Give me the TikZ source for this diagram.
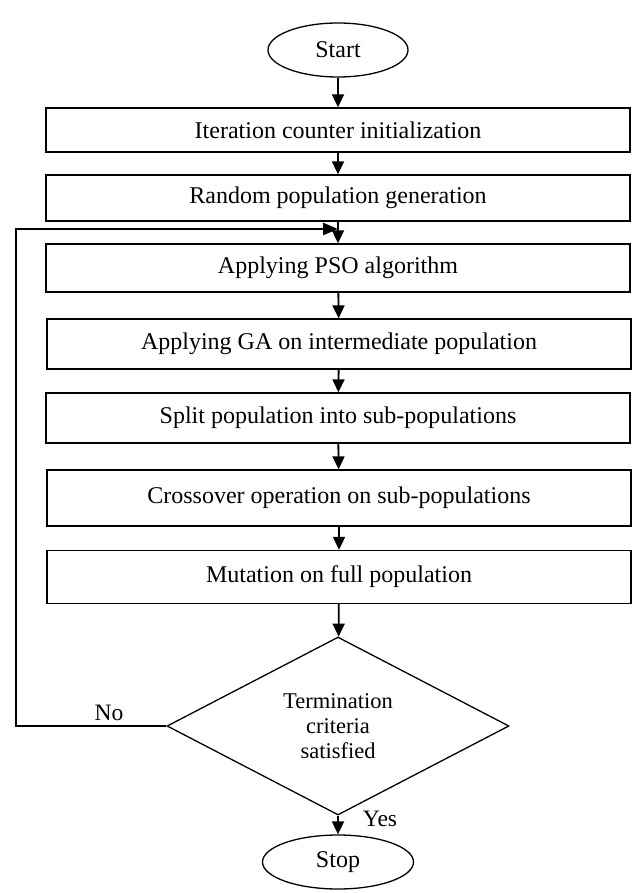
\documentclass[tikz,border=0pt]{standalone}
\usepackage{fontspec}
\setmainfont{Liberation Serif}
\usetikzlibrary{shapes.geometric,arrows.meta}
\begin{document}
\begin{tikzpicture}[x=1pt,y=-1pt,
  box/.style={draw,line width=1.3pt,minimum width=584pt,inner sep=0pt,font=\fontsize{24}{26}\selectfont},
  term/.style={ellipse,draw,line width=1.3pt,inner sep=0pt,minimum height=54pt,font=\fontsize{24}{26}\selectfont},
  decision/.style={diamond,draw,line width=1.3pt,inner sep=0pt,aspect=1.92,minimum width=342pt,minimum height=178pt,align=center,font=\fontsize{22.5}{25}\selectfont},
  arr/.style={line width=1.8pt,-{Triangle[length=13pt,width=12pt]}},
  fb/.style={line width=2.6pt,-{Triangle[length=15pt,width=12pt]}},
  lbl/.style={inner sep=0pt,font=\fontsize{23.5}{26}\selectfont}]
\useasboundingbox (0,0) rectangle (638,893);
\node[term,minimum width=140pt] (start) at (338,50) {Start};
\node[box,minimum height=44pt] (b1) at (338,130) {Iteration counter initialization};
\node[box,minimum height=46pt] (b2) at (338,198) {Random population generation};
\node[box,minimum height=48pt] (b3) at (338,268) {Applying PSO algorithm};
\node[box,minimum height=50pt] (b4) at (339,344) {Applying GA on intermediate population};
\node[box,minimum height=50pt] (b5) at (338,418) {Split population into sub-populations};
\node[box,minimum height=56pt] (b6) at (339,498) {Crossover operation on sub-populations};
\node[box,minimum height=53pt] (b7) at (339,577) {Mutation on full population};
\node[decision] (d) at (338,726) {Termination\\criteria\\satisfied};
\node[term,minimum width=151pt] (stop) at (338,862) {Stop};
\node[lbl] (no) at (109,713) {No};
\node[lbl] (yes) at (380,819) {Yes};
\coordinate (fbl) at (16,726);
\coordinate (fbt) at (338,229);
\draw[arr] (start) -- (b1);
\draw[arr] (b1) -- (b2);
\draw[arr] (b2) -- (b3);
\draw[arr] (b3) -- (b4);
\draw[arr] (b4) -- (b5);
\draw[arr] (b5) -- (b6);
\draw[arr] (b6) -- (b7);
\draw[arr] (b7) -- (d);
\draw[arr] (d) -- (stop);
\draw[fb] (d.west) -- (fbl) |- (fbt);
\end{tikzpicture}
\end{document}
